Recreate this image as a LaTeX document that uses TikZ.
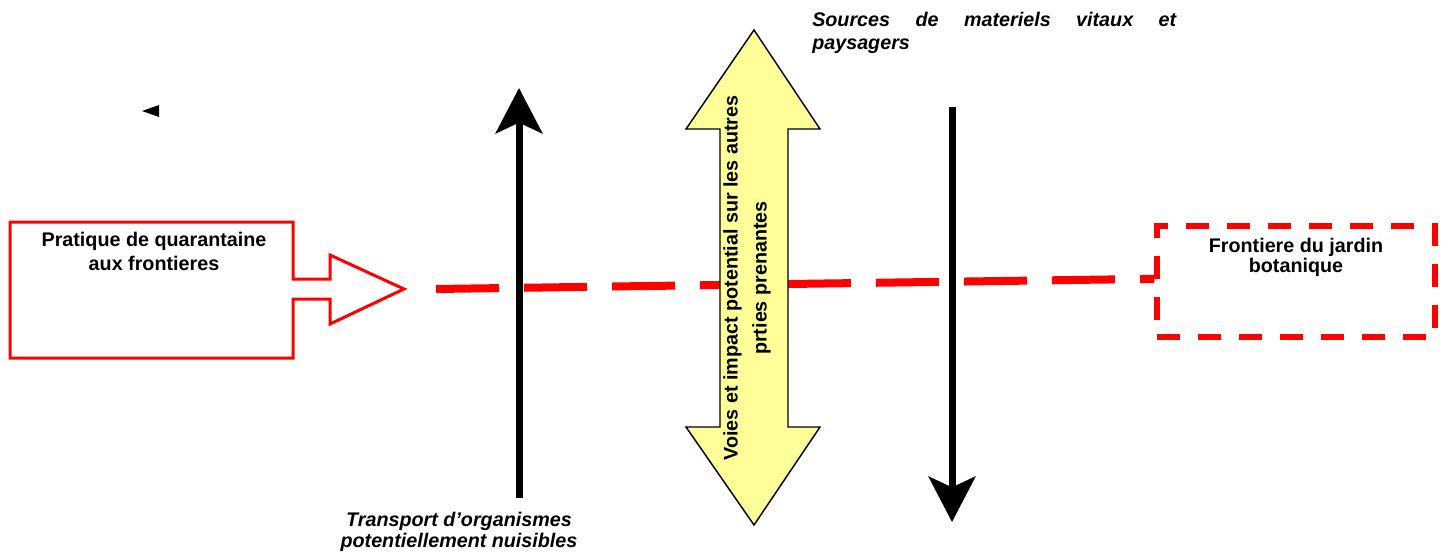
\documentclass[tikz,border=0pt]{standalone}
\usepackage{fontspec}
\setmainfont{Liberation Sans}
\usetikzlibrary{arrows.meta, positioning}
\definecolor{alarmred}{RGB}{255,0,0}
\definecolor{paleyellow}{RGB}{255,255,153}
\tikzset{
  lbl/.style={font=\bfseries\fontsize{14.8}{18}\selectfont, align=center, inner sep=0pt},
  itlbl/.style={font=\bfseries\itshape\fontsize{14.8}{16}\selectfont, align=center, inner sep=0pt},
  blackarrow/.style={line width=5.25pt, -{Stealth[length=34pt, width=35pt, inset=8pt]}},
  reddash/.style={draw=alarmred, line width=6pt, dash pattern=on 47.25pt off 18.75pt},
  redbox/.style={draw=alarmred, line width=2.25pt, line join=miter, fill=white},
}

\begin{document}
\begin{tikzpicture}[x=0.75pt, y=-0.75pt]
	\useasboundingbox (0,0) rectangle (1448,556);
	% border practice callout
	\draw[redbox] (10,222) -- (293,222) -- (293,279) -- (330,279) -- (330,255) -- (404,289)
		-- (330,324) -- (330,299) -- (293,299) -- (293,358) -- (10,358) -- cycle;
	\node[lbl, anchor=north] (pratique) at (154,232) {Pratique de quarantaine\\aux frontieres};
	% garden border
	\node[draw=alarmred, line width=4.1pt, dash pattern=on 17.25pt off 13.5pt,
		minimum width=208.5pt, minimum height=83.25pt, inner sep=0pt] (jardin) at (1296,281.5) {};
	\node[lbl, font=\bfseries\fontsize{14.8}{15}\selectfont, anchor=north] (jardintxt) at (1296,238)
		{Frontiere du jardin\\botanique};
	% frontier line
	\coordinate (linestart) at (436,289);
	\draw[reddash] (linestart) -- ([yshift=2pt]jardin.west);
	% pathways
	\coordinate (upfoot) at (519,498);
	\coordinate (uptip) at (519,88);
	\draw[blackarrow] (upfoot) -- (uptip);
	\coordinate (downfoot) at (952,107);
	\coordinate (downtip) at (952,522);
	\draw[blackarrow] (downfoot) -- (downtip);
	% double arrow
	\draw[fill=paleyellow, line width=1.1pt, line join=miter] (754,30) -- (820,129) -- (788,129) -- (788,427)
		-- (820,427) -- (754,525) -- (686,427) -- (720,427) -- (720,129) -- (686,129) -- cycle;
	\node[lbl, font=\bfseries\fontsize{14.8}{21.75}\selectfont, rotate=90] (voies) at (747,278)
		{Voies et impact potential sur les autres\\prties prenantes};
	% stray tip
	\fill (142,111) -- (159,105) -- (159,117) -- cycle;
	% captions
	\node[itlbl, anchor=north] (transport) at (459,512) {Transport d'organismes\\potentiellement nuisibles};
	\node[itlbl, font=\bfseries\itshape\fontsize{14.8}{17.25}\selectfont, align=left, anchor=north west]
		(sources) at (812,12) {\makebox[273pt][s]{Sources de materiels vitaux et}\\paysagers};
\end{tikzpicture}
\end{document}
